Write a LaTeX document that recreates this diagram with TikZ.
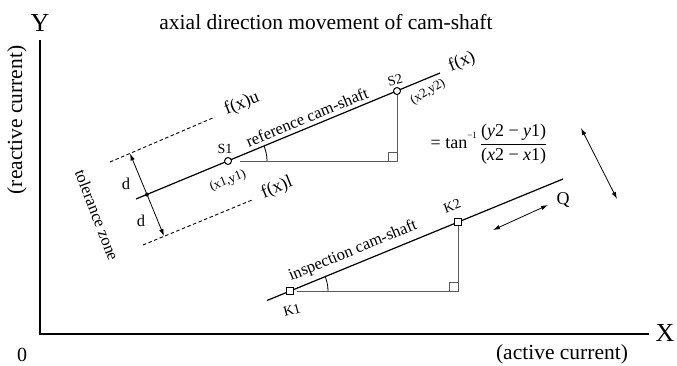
\documentclass[tikz,border=0pt]{standalone}
\usepackage{fontspec}
\setmainfont{Liberation Serif}
\usetikzlibrary{arrows.meta}
\tikzset{
  mainline/.style={line width=1.2pt},
  axisline/.style={line width=1.3pt},
  dashline/.style={line width=0.9pt, dash pattern=on 3.5pt off 2.5pt},
  helpline/.style={line width=0.9pt, black!65},
  dblarrow/.style={line width=0.8pt, {Latex[length=7pt,width=4.5pt]}-{Latex[length=7pt,width=4.5pt]}},
  lbl/.style={inner sep=0pt, font=\fontsize{14}{16}\selectfont},
  big/.style={inner sep=0pt, font=\fontsize{21.5}{24}\selectfont},
  mid/.style={inner sep=0pt, font=\fontsize{16.5}{19}\selectfont},
  fx/.style={inner sep=0pt, font=\fontsize{18}{20}\selectfont, rotate=22},
  circpt/.style={circle, draw, fill=white, line width=1pt, inner sep=0pt, minimum size=7pt},
  sqpt/.style={rectangle, draw, fill=white, line width=1pt, inner sep=0pt, minimum size=6.5pt},
}
\begin{document}
\begin{tikzpicture}[x=1pt,y=-1pt]
\useasboundingbox (0,0) rectangle (677,365);
% axes
\coordinate (O) at (40,334);
\coordinate (Ytop) at (40,40);
\coordinate (Xend) at (649,334);
\draw[axisline] (Ytop) -- (O) -- (Xend);
\node[inner sep=0pt, font=\fontsize{26}{28}\selectfont] (Ylab) at (40,23) {Y};
\node[inner sep=0pt, font=\fontsize{26}{28}\selectfont] (Xlab) at (665,333) {X};
\node[inner sep=0pt, font=\fontsize{20}{22}\selectfont] (zero) at (22,355) {0};
\node[big, rotate=90] (ylabtxt) at (17,120) {(reactive current)};
\node[big] (xlabtxt) at (562,354) {(active current)};
\node[big] (title) at (326,22) {axial direction movement of cam-shaft};

% reference line
\coordinate (RA) at (136,199);
\coordinate (RB) at (440,73);
\draw[mainline] (RA) -- (RB);
% tolerance lines
\coordinate (UA) at (110,162);
\coordinate (UB) at (215,117);
\coordinate (LA) at (143,245);
\coordinate (LB) at (252,200);
\draw[dashline] (UA) -- (UB);
\draw[dashline] (LA) -- (LB);
% d arrows
\coordinate (M) at (147,194.5);
\coordinate (U) at (130,153.5);
\coordinate (L) at (164,236);
\draw[line width=0.8pt, -{Latex[length=7pt,width=4.5pt]}] (M) -- (U);
\draw[line width=0.8pt, -{Latex[length=7pt,width=4.5pt]}] (M) -- (L);
\fill (M) circle (2pt);
\node[mid] (d1) at (126,184) {d};
\node[mid] (d2) at (141,221) {d};
\node[mid, rotate=-69] (tol) at (97,215) {tolerance zone};

% triangle 1
\coordinate (S1c) at (228,161);
\coordinate (S2c) at (397,91);
\coordinate (C1) at (397,161);
\coordinate (H1) at (240,161);
\draw[helpline] (H1) -- (C1) -- (S2c);
\draw[helpline] (388,161) -- (388,152) -- (397,152);
\draw[line width=0.8pt] (267,161) arc[start angle=0, end angle=-22.5, radius=39];
\node[circpt] (S1) at (S1c) {};
\node[circpt] (S2) at (S2c) {};
\node[lbl] (S1lab) at (225,149) {S1};
\node[lbl, rotate=15] (S2lab) at (395,80) {S2};
\node[lbl, font=\fontsize{13}{15}\selectfont, rotate=22] (p1) at (228,181) {(x1,y1)};
\node[lbl, font=\fontsize{13}{15}\selectfont, rotate=30] (p2) at (428,92) {(x2,y2)};
\node[mid, rotate=22.5] (reflab) at (307,117) {reference cam-shaft};
\node[fx] (fxlab) at (462,62) {f(x)};
\node[fx] (fxu) at (242,104) {f(x)u};
\node[fx] (fxl) at (277,188) {f(x)l};

% formula
\node[inner sep=0pt, font=\fontsize{18}{20}\selectfont] (formula) at (489,144)
  {= tan\raisebox{0.55em}{\fontsize{9}{10}\selectfont −1}\,$\displaystyle\frac{\hbox{(\textit{y}2 − \textit{y}1)}}{\hbox{(\textit{x}2 − \textit{x}1)}}$};

% inspection line
\coordinate (IA) at (267,300.5);
\coordinate (IB) at (563,179);
\draw[mainline] (IA) -- (IB);
\coordinate (K1c) at (290,291);
\coordinate (K2c) at (458,222);
\coordinate (C2) at (458,291);
\coordinate (H2) at (297,291);
\draw[helpline] (H2) -- (C2) -- (K2c);
\draw[helpline] (449,291) -- (449,282) -- (458,282);
\draw[line width=0.8pt] (328,291) arc[start angle=0, end angle=-22.3, radius=38];
\node[sqpt] (K1) at (K1c) {};
\node[sqpt] (K2) at (K2c) {};
\node[lbl, rotate=15] (K1lab) at (292,310) {K1};
\node[lbl, rotate=20] (K2lab) at (452,206) {K2};
\node[mid, rotate=22.3] (insplab) at (353,251) {inspection cam-shaft};

% movement arrows
\coordinate (QA) at (493,230);
\coordinate (QB) at (548,205);
\draw[dblarrow] (QA) -- (QB);
\node[mid, font=\fontsize{18}{20}\selectfont] (Qlab) at (563,200) {Q};
\coordinate (PA) at (581,128);
\coordinate (PB) at (617,199);
\draw[dblarrow] (PA) -- (PB);
\end{tikzpicture}
\end{document}
